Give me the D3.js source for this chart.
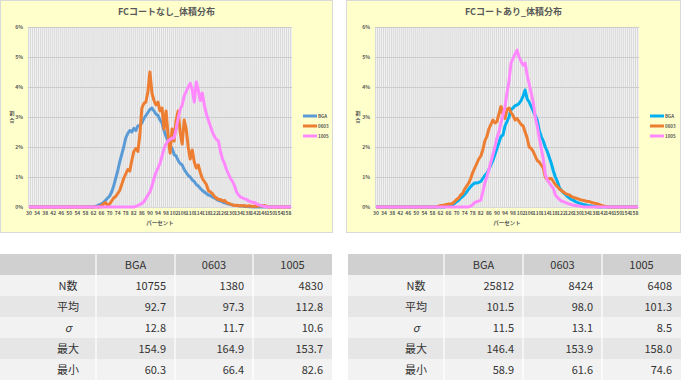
<!DOCTYPE html>
<html>
<head>
<meta charset="utf-8">
<script src="https://cdn.jsdelivr.net/npm/d3@7"></script>
<style>
  body { margin: 0; background: #fff; }
  text { font-family: "Noto Sans CJK JP", "Noto Sans", sans-serif; }
</style>
</head>
<body>
<div id="chart"></div>
<script>
// -------------------- DATA --------------------
const categories = [30,31,32,33,34,35,36,37,38,39,40,41,42,43,44,45,46,47,48,49,50,51,52,53,54,55,56,57,58,59,
  60,61,62,63,64,65,66,67,68,69,70,71,72,73,74,75,76,77,78,79,80,81,82,83,84,85,86,87,88,89,
  90,91,92,93,94,95,96,97,98,99,100,101,102,103,104,105,106,107,108,109,110,111,112,113,114,115,116,117,118,119,
  120,121,122,123,124,125,126,127,128,129,130,131,132,133,134,135,136,137,138,139,140,141,142,143,144,145,146,147,148,149,
  150,151,152,153,154,155,156,157,158,159,160];
const xTickLabels = [30,34,38,42,46,50,54,58,62,66,70,74,78,82,86,90,94,98,102,106,110,114,118,122,126,130,134,138,142,146,150,154,158];
const yTickLabels = [0,1,2,3,4,5,6];
const seriesNames = ["BGA", "0603", "1005"];

// FCコートなし (割合 %)  30..160
const noCoatBGA = [0,0,0,0,0,0,0,0,0,0, 0,0,0,0,0,0,0,0,0,0, 0,0,0,0,0,0,0,0,0,0,
  0,0,0,0.02,0.05,0.08,0.1,0.15,0.22,0.3, 0.36,0.5,0.7,0.95,1.2,1.5,1.75,2.0,2.3,2.45,
  2.55,2.5,2.62,2.55,2.7,2.72,2.8,2.95,3.05,3.15, 3.25,3.3,3.2,3.1,3.05,2.9,2.8,2.55,2.35,2.2,
  2.05,1.95,1.75,1.7,1.55,1.45,1.4,1.25,1.15,1.05, 1.0,0.9,0.85,0.75,0.7,0.62,0.55,0.5,0.45,0.4,
  0.38,0.33,0.3,0.26,0.22,0.2,0.17,0.14,0.12,0.1, 0.08,0.07,0.05,0.05,0.04,0.03,0.03,0.02,0.02,0.01,
  0.01,0,0,0,0,0,0,0,0,0, 0,0,0,0,0,0,0,0,0,0, 0];
const noCoat0603 = [0,0,0,0,0,0,0,0,0,0, 0,0,0,0,0,0,0,0,0,0, 0,0,0,0,0,0,0,0,0,0,
  0,0,0,0,0,0,0.05,0.1,0.15,0.05, 0.1,0.2,0.3,0.35,0.45,0.55,0.75,0.95,1.1,1.25,
  1.2,1.55,1.85,1.95,1.85,2.4,3.3,3.45,3.5,3.85, 4.5,3.8,3.55,3.4,3.5,3.2,3.3,2.6,3.2,2.4,
  1.8,2.6,2.2,2.9,3.2,2.5,2.1,2.9,2.6,2.0, 1.6,1.9,1.5,1.3,1.4,1.15,0.95,0.85,0.75,0.55,
  0.5,0.45,0.35,0.3,0.25,0.25,0.2,0.22,0.15,0.12, 0.1,0.07,0.05,0.06,0.04,0.05,0.03,0.05,0.02,0.04,
  0.03,0.02,0.03,0.02,0.05,0.03,0.04,0.05,0.02,0, 0,0,0,0,0,0,0,0,0,0, 0];
const noCoat1005 = [0,0,0,0,0,0,0,0,0,0, 0,0,0,0,0,0,0,0,0,0, 0,0,0,0,0,0,0,0,0,0,
  0,0,0,0,0,0,0,0,0,0, 0,0,0,0,0,0,0,0,0,0,
  0,0,0,0.02,0.05,0.08,0.12,0.18,0.28,0.4, 0.5,0.7,0.95,1.15,1.3,1.45,1.7,1.95,2.1,2.2,
  2.25,2.3,2.3,2.6,2.95,3.25,3.4,3.7,3.85,4.0, 4.12,3.9,3.5,4.17,3.9,3.55,3.8,3.4,3.1,2.9,
  2.7,2.5,2.35,2.25,2.2,1.85,1.6,1.45,1.25,1.1, 0.95,0.85,0.7,0.5,0.4,0.33,0.3,0.27,0.25,0.2,
  0.18,0.15,0.15,0.1,0.08,0.05,0.03,0.02,0,0, 0,0,0,0,0,0,0,0,0,0, 0];

// FCコートあり (割合 %)  30..160
const coatBGA = [0,0,0,0,0,0,0,0,0,0, 0,0,0,0,0,0,0,0,0,0, 0,0,0,0,0,0,0,0,0,0,
  0,0,0,0,0,0.02,0.03,0.05,0.07,0.12, 0.18,0.22,0.3,0.35,0.42,0.5,0.6,0.68,0.75,0.8,
  0.8,0.82,0.85,0.95,1.05,1.12,1.25,1.4,1.55,1.75, 1.95,2.15,2.35,2.4,2.7,2.85,3.0,3.25,3.3,3.38,
  3.4,3.45,3.55,3.7,3.9,3.6,3.5,3.35,3.2,3.05, 2.9,2.55,2.35,2.2,2.0,1.85,1.65,1.45,1.2,1.0,
  0.85,0.65,0.55,0.48,0.42,0.35,0.3,0.25,0.22,0.18, 0.15,0.12,0.1,0.08,0.07,0.05,0.04,0.03,0.02,0.01,
  0,0,0,0,0,0,0,0,0,0, 0,0,0,0,0,0,0,0,0,0, 0];
const coat0603 = [0,0,0,0,0,0,0,0,0,0, 0,0,0,0,0,0,0,0,0,0, 0,0,0,0,0,0,0,0,0,0,
  0,0.03,0.05,0.05,0.07,0.08,0.1,0.1,0.12,0.18, 0.25,0.3,0.4,0.45,0.6,0.7,0.8,0.95,1.15,1.3,
  1.45,1.6,1.7,1.9,2.2,2.35,2.6,2.75,2.9,2.8, 2.85,3.1,3.35,3.1,2.95,3.25,3.3,3.15,3.05,2.9,
  2.95,2.85,2.75,2.7,2.5,2.3,2.0,1.95,1.85,1.7, 1.55,1.5,1.4,1.3,1.0,0.9,0.95,0.95,0.85,0.75,
  0.68,0.6,0.55,0.5,0.45,0.42,0.4,0.35,0.32,0.3, 0.28,0.25,0.23,0.22,0.2,0.18,0.18,0.15,0.13,0.12,
  0.1,0.08,0.05,0.03,0.02,0.01,0,0,0,0, 0,0,0,0,0,0,0,0,0,0, 0];
const coat1005 = [0,0,0,0,0,0,0,0,0,0, 0,0,0,0,0,0,0,0,0,0, 0,0,0,0,0,0,0,0,0,0,
  0,0,0,0,0,0,0,0,0,0, 0,0,0,0,0,0,0,0.03,0.08,0.15,
  0.18,0.2,0.23,0.5,0.8,1.0,1.25,1.5,1.75,2.0, 2.3,2.5,2.8,3.05,3.35,3.8,4.2,4.8,4.95,5.1,
  5.23,5.0,4.85,4.73,4.8,4.4,4.1,3.8,3.5,3.0, 2.7,2.3,1.95,1.6,1.1,0.9,0.8,0.7,0.62,0.4,
  0.32,0.25,0.2,0.18,0.15,0.12,0.1,0.08,0.06,0.05, 0.04,0.03,0.02,0,0,0,0,0,0,0,
  0,0,0,0,0,0,0,0,0,0, 0,0,0,0,0,0,0,0,0,0, 0];

// 統計テーブル
const statLabels = ["N数", "平均", "σ", "最大", "最小"];
const noCoatStats = [
  ["10755", "1380", "4830"],
  ["92.7", "97.3", "112.8"],
  ["12.8", "11.7", "10.6"],
  ["154.9", "164.9", "153.7"],
  ["60.3", "66.4", "82.6"]
];
const coatStats = [
  ["25812", "8424", "6408"],
  ["101.5", "98.0", "101.3"],
  ["11.5", "13.1", "8.5"],
  ["146.4", "153.9", "158.0"],
  ["58.9", "61.6", "74.6"]
];

// -------------------- SVG --------------------
const svg = d3.select("#chart").append("svg")
  .attr("width", 681)
  .attr("height", 380);

function drawChart(left, right, plotLeft, plotRight, title, series, colors) {
  const g = svg.append("g");

  // fond jaune
  g.append("rect")
    .attr("x", left + 0.5).attr("y", 0.5)
    .attr("width", right - left - 1).attr("height", 232)
    .attr("fill", "#FFFFCC")
    .attr("stroke", "#D9D9D9");

  const x = d3.scaleBand().domain(categories).range([plotLeft, plotRight]).padding(0);
  const y = d3.scaleLinear().domain([0, 6]).range([207, 27]);

  // zone de tracé
  g.append("rect")
    .attr("x", plotLeft).attr("y", y(6))
    .attr("width", plotRight - plotLeft).attr("height", y(0) - y(6))
    .attr("fill", "#F2F2F2");

  // grille verticale
  g.selectAll(".vgrid")
    .data(categories)
    .enter().append("line")
    .attr("x1", d => x(d) + 0.5).attr("x2", d => x(d) + 0.5)
    .attr("y1", y(6)).attr("y2", y(0))
    .attr("stroke", "#D9D9D9")
    .attr("stroke-width", 1);

  // grille horizontale
  g.selectAll(".hgrid")
    .data(yTickLabels)
    .enter().append("line")
    .attr("x1", plotLeft).attr("x2", plotRight)
    .attr("y1", d => Math.round(y(d)) + 0.5).attr("y2", d => Math.round(y(d)) + 0.5)
    .attr("stroke", "#CCCCCC")
    .attr("stroke-width", 1);

  // axes
  const yAxis = g.append("g")
    .attr("transform", `translate(${plotLeft},0)`)
    .call(d3.axisLeft(y).tickValues(yTickLabels).tickFormat(d => d + "%").tickSize(0).tickPadding(5));
  yAxis.select(".domain").remove();
  yAxis.selectAll("text").style("font-size", "5px").style("font-weight", "bold").style("fill", "#595959");

  const xAxis = g.append("g")
    .attr("transform", `translate(0,${y(0)})`)
    .call(d3.axisBottom(x).tickValues(xTickLabels).tickSize(0).tickPadding(4));
  xAxis.select(".domain").attr("stroke", "#D9D9D9");
  xAxis.selectAll("text").style("font-size", "5px").style("font-weight", "bold").style("fill", "#595959");

  // courbes
  const line = d3.line()
    .x((d, i) => x(categories[i]) + x.bandwidth() / 2)
    .y(d => y(d));

  series.forEach((s, i) => {
    g.append("path")
      .datum(s)
      .attr("d", line)
      .attr("fill", "none")
      .attr("stroke", colors[i])
      .attr("stroke-width", 3)
      .attr("stroke-linejoin", "round");
  });

  // titre
  g.append("text")
    .attr("x", (left + right) / 2).attr("y", 15)
    .attr("text-anchor", "middle")
    .style("font-size", "9px").style("font-weight", "bold")
    .style("fill", "#595959")
    .text(title);

  // titre axe y (vertical)
  const ylab = g.append("text")
    .attr("x", left + 12).attr("y", 115)
    .attr("text-anchor", "middle")
    .style("font-size", "5px").style("font-weight", "bold")
    .style("fill", "#595959");
  ylab.append("tspan").attr("x", left + 12).attr("dy", 0).text("割");
  ylab.append("tspan").attr("x", left + 12).attr("dy", 7).text("合");

  // titre axe x
  g.append("text")
    .attr("x", (plotLeft + plotRight) / 2).attr("y", 225)
    .attr("text-anchor", "middle")
    .style("font-size", "5.5px").style("font-weight", "bold")
    .style("fill", "#595959")
    .text("パーセント");

  // légende
  const legX = plotRight + 11;
  seriesNames.forEach((name, i) => {
    const ly = 116 + i * 10;
    g.append("line")
      .attr("x1", legX).attr("x2", legX + 14)
      .attr("y1", ly).attr("y2", ly)
      .attr("stroke", colors[i]).attr("stroke-width", 3);
    g.append("text")
      .attr("x", legX + 15).attr("y", ly + 1.7)
      .style("font-size", "4.5px").style("font-weight", "bold")
      .style("fill", "#595959")
      .text(name);
  });
}

drawChart(0, 333, 28, 292, "FCコートなし_体積分布",
  [noCoatBGA, noCoat0603, noCoat1005], ["#5B9BD5", "#ED7D31", "#FF88FF"]);
drawChart(346, 681, 375, 639, "FCコートあり_体積分布",
  [coatBGA, coat0603, coat1005], ["#00B0F0", "#ED7D31", "#FF88FF"]);

// -------------------- TABLEAUX --------------------
function drawTable(left, colWidths, stats) {
  const g = svg.append("g");
  const top = 254, rowH = 21;
  const colX = [left];
  colWidths.forEach(w => colX.push(colX[colX.length - 1] + w));
  const rowFill = ["#F2F2F2", "#E6E6E6", "#F2F2F2", "#E6E6E6", "#F2F2F2"];

  // en-tête
  g.append("rect").attr("x", left).attr("y", top)
    .attr("width", colX[4] - left).attr("height", rowH).attr("fill", "#D0D0D0");
  seriesNames.forEach((name, i) => {
    g.append("text")
      .attr("x", (colX[i + 1] + colX[i + 2]) / 2).attr("y", top + rowH / 2 + 4)
      .attr("text-anchor", "middle")
      .style("font-size", "11px").style("fill", "#333")
      .text(name);
  });

  statLabels.forEach((lab, r) => {
    const ry = top + rowH * (r + 1);
    g.append("rect").attr("x", left).attr("y", ry)
      .attr("width", colX[4] - left).attr("height", rowH).attr("fill", rowFill[r]);
    g.append("text")
      .attr("x", left + 68).attr("y", ry + rowH / 2 + 4)
      .attr("text-anchor", "middle")
      .style("font-size", "11px").style("fill", "#333")
      .style("font-style", lab === "σ" ? "italic" : "normal")
      .text(lab);
    stats[r].forEach((v, c) => {
      g.append("text")
        .attr("x", colX[c + 2] - 9).attr("y", ry + rowH / 2 + 4)
        .attr("text-anchor", "end")
        .style("font-size", "11px").style("fill", "#333")
        .text(v);
    });
  });

  // séparateurs blancs
  colX.slice(1, 4).forEach(cx => {
    g.append("line")
      .attr("x1", cx).attr("x2", cx)
      .attr("y1", top).attr("y2", top + rowH * 6)
      .attr("stroke", "#fff").attr("stroke-width", 1.2);
  });
}

drawTable(0, [96, 79, 78, 79], noCoatStats);
drawTable(348, [96, 79, 79, 79], coatStats);
</script>
</body>
</html>
